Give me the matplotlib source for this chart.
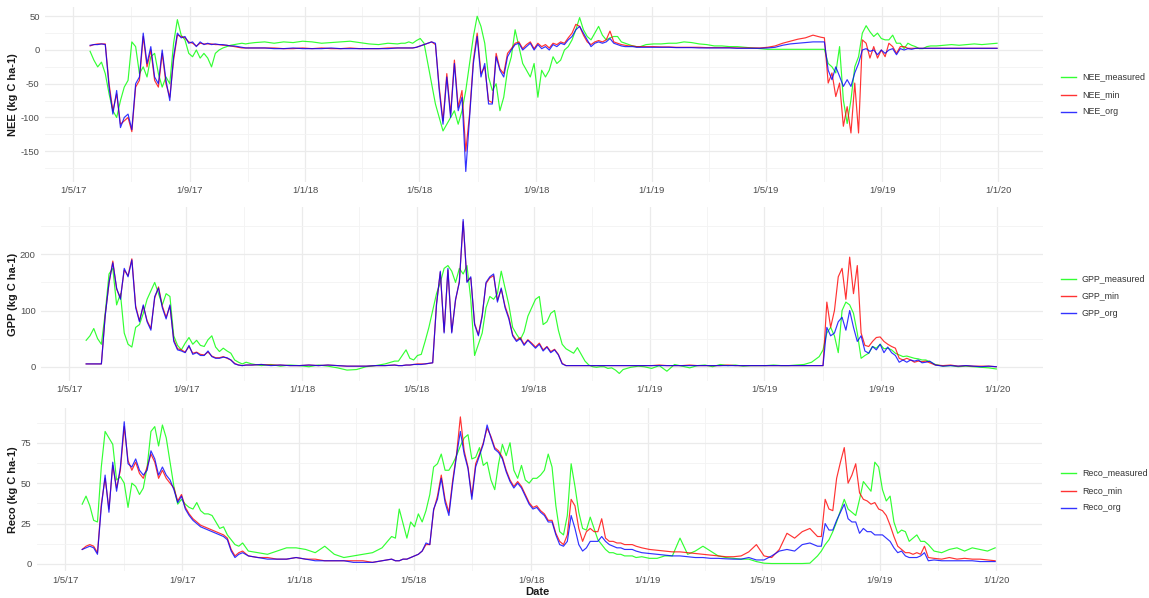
import numpy as np
import pandas as pd
import matplotlib
matplotlib.use("Agg")
import matplotlib.pyplot as plt
import matplotlib.dates as mdates
from matplotlib.lines import Line2D

plt.rcParams['font.family'] = ['Liberation Sans', 'DejaVu Sans']

# ---------------- data ----------------
start_date = "2017-05-01"
# sample days (offset from start_date)
day_offsets = np.concatenate([
    np.arange(18, 187, 4),    # summer 2017
    np.arange(192, 343, 10),  # winter 2017/18
    np.arange(346, 599, 4),   # summer 2018
    np.arange(604, 789, 8),   # winter 2018/19
    np.arange(792, 905, 4),   # summer 2019
    np.arange(910, 975, 8),   # end 2019
])

NEE_measured = [
    -2, -15, -25, -18, -35, -65, -90, -100, -75, -55, -45, 12, 5, -35, -25, -40, -10, -5, -35, -55, -40, -50,
    10, 45, 22, 15, -5, -10, 0, -12, -5, -12, -25, -5, 0, 3, 5, 7, 8, 9, 10, 9, 10,
    11, 12, 10, 12, 11, 13, 12, 10, 11, 12, 13, 11, 9, 8, 10, 9,
    10, 10, 12, 10, 14, 17, 10, -20, -50, -80, -100, -120, -110, -100, -90, -110, -90, -60, -20, 20, 50, 35,
    10, -40, -60, -50, -90, -70, -30, -10, 30, 5, -20, -30, -40, -20, -70, -30, -40, -30, -10, -20, -15, 0,
    5, 15, 30, 48, 30, 20, 15, 25, 35, 22, 15, 18, 20, 20, 12, 10, 8, 6, 5, 5,
    8, 9, 9, 10, 10, 12, 11, 9, 8, 6, 6, 5, 5, 4, 3, 2, 1, 1, 1, 1, 1, 1, 1, 1,
    1, -20, -25, -34, 5, -74, -109, -74, -25, -10, 25, 36, 27, 20, 25, 17, 15, 15, 22, 10, 10, 2, 10, 7, 5,
    2, 2, 5, 6,
    6, 7, 8, 7, 8, 9, 8, 9, 10,
]
NEE_min = [
    6, 8, 9, 9, 9, -50, -90, -65, -110, -105, -100, -121, -55, -45, 20, -25, 0, -45, -55, -5, -50, -70,
    -15, 22, 20, 18, 12, 10, 6, 10, 9, 9, 9, 8, 8, 7, 7, 6, 5, 4, 3, 3, 3,
    3, 3, 3, 2, 2, 3, 2, 3, 2, 2, 3, 2, 2, 2, 3, 3,
    3, 3, 3, 3, 4, 6, 8, 10, 12, 8, -55, -105, -35, -95, -15, -85, -60, -150, -95, -15, 25, -35, -25, -75,
    -78, -5, -28, -35, -5, 2, 10, 12, 2, 8, 12, 2, 10, 5, 8, 3, 10, 8, 12, 10, 18, 25, 38, 35, 22, 12, 8,
    12, 14, 12, 15, 28, 12, 10, 8, 7, 6, 6, 5, 5,
    5, 5, 4.5, 4.5, 4, 4, 4, 4, 3.5, 3.5, 3.5, 3.5, 3, 3, 3, 3, 4, 6, 10, 13, 16, 18, 22, 19,
    18, -49, -34, -69, -49, -113, -84, -123, -49, -123, 15, 10, -12, 5, -12, 0, -10, 10, 5, -5, 5, 5,
    2.5, 2.5, 2.5, 2.5, 2.5, 2.5, 2.5,
    2.5, 2.5, 2.5, 2.5, 2.5, 2.5, 2.5, 2.5, 2.5,
]
NEE_org = [
    7, 8, 8, 9, 8, -55, -95, -60, -115, -100, -95, -118, -50, -40, 25, -20, 5, -40, -50, 0, -45, -75,
    -10, 25, 18, 20, 10, 12, 5, 12, 8, 10, 8, 9, 8, 8, 7, 6, 6, 5, 4, 3, 3,
    3, 3, 2, 2, 3, 2, 2, 2, 3, 2, 2, 2, 2, 2, 2, 3,
    3, 3, 3, 3, 4, 6, 8, 10, 12, 10, -60, -110, -40, -100, -20, -90, -70, -180, -100, -20, 20, -40, -20,
    -80, -80, -10, -30, -40, -10, 0, 8, 10, 0, 5, 10, 0, 8, 2, 5, 0, 8, 5, 10, 8, 15, 20, 30, 35, 25, 15,
    5, 10, 12, 10, 12, 17, 10, 8, 6, 5, 5, 5, 4, 4,
    4, 4, 4, 4, 3.5, 3.5, 3.5, 3, 3, 3, 3, 3, 2.5, 2.5, 2.5, 2.5, 3, 4, 7, 9, 10, 11, 12, 12,
    12, -30, -44, -25, -39, -54, -44, -54, -34, -20, 0, 2, -2, 0, -7, 0, -5, 0, 2, -7, 2, 0, 2, 1,
    2.5, 2.5, 2.5, 2.5, 2.5,
    2.5, 2.5, 2.5, 2.5, 2.5, 2.5, 2.5, 2.5, 2.5,
]

GPP_measured = [
    47, 55, 68, 50, 40, 95, 165, 175, 110, 130, 60, 40, 35, 70, 75, 95, 120, 135, 150, 130, 110, 130,
    125, 55, 38, 30, 42, 52, 40, 47, 38, 36, 48, 55, 35, 27, 33, 28, 24, 12, 8, 5, 8,
    5, 2, 4, 1, 3, 2, 0, 3, 1, -2, -6, -5, 0, 2, 5, 10,
    10, 20, 30, 15, 12, 20, 22, 45, 70, 100, 130, 150, 175, 180, 170, 150, 175, 165, 180, 120, 20, 40,
    60, 105, 125, 120, 130, 170, 140, 110, 70, 58, 48, 62, 90, 105, 120, 125, 75, 80, 95, 100, 65, 40,
    32, 28, 24, 34, 22, 10, 3, 0, -1, 0, 0, -3, -2, -6, -12, -5, -3, -1, 0, 1,
    0, -3, 2, -8, 4, 1, -2, 2, 3, 0, 4, 2, 3, 1, 2, 2, 2, 3, 2, 2, 3, 4, 8, 18,
    30, 60, 70, 55, 25, 100, 115, 110, 95, 60, 15, 20, 24, 36, 33, 40, 32, 33, 30, 24, 21, 18, 19, 17,
    15, 14, 12, 12, 9,
    4, 1, 2, 0, 1, 0, -1, -2, -4,
]
GPP_min = [
    5, 5, 5, 5, 5, 92, 148, 188, 138, 122, 172, 162, 192, 108, 82, 108, 82, 68, 122, 142, 108, 88,
    108, 48, 32, 30, 26, 36, 24, 26, 22, 21, 26, 19, 16, 16, 18, 15, 12, 6, 3, 2, 3,
    3, 4, 3, 3, 2, 2, 3, 2, 3, 2, 1, 1, 1, 2, 2, 3,
    2, 2, 3, 3, 4, 5, 5, 5, 6, 7, 112, 168, 62, 172, 62, 118, 152, 258, 152, 158, 77, 57, 92, 148,
    158, 162, 118, 138, 108, 88, 57, 47, 52, 40, 48, 42, 35, 42, 30, 36, 27, 31, 22, 6,
    2, 2, 2, 2, 2, 2, 2, 2, 2, 2, 2, 2, 2, 2, 2, 2, 2, 2, 2, 2,
    2, 2, 3, 2, 2, 2, 3, 2, 2, 2, 2, 3, 2, 2, 2, 2, 2, 2, 2, 2, 2, 2, 2, 2,
    2, 115, 70, 100, 160, 175, 120, 195, 130, 180, 60, 38, 36, 45, 52, 53, 45, 40, 36, 33, 15, 12, 15,
    12, 8, 10, 9, 10, 7,
    3, 2, 3, 1, 2, 1, 1, 1, 0,
]
GPP_org = [
    5, 5, 5, 5, 5, 90, 150, 185, 140, 120, 175, 160, 190, 105, 80, 110, 80, 65, 125, 140, 105, 85,
    110, 45, 30, 28, 25, 38, 22, 25, 20, 20, 28, 18, 15, 15, 17, 16, 12, 5, 3, 2, 3,
    3, 4, 2, 3, 2, 2, 3, 2, 3, 2, 1, 1, 1, 2, 2, 3,
    2, 2, 3, 3, 4, 4, 4, 5, 6, 7, 110, 170, 60, 175, 60, 120, 150, 262, 150, 160, 75, 55, 90, 150,
    160, 165, 115, 140, 105, 85, 55, 45, 50, 38, 47, 40, 33, 40, 28, 35, 25, 30, 21, 5,
    2, 2, 2, 2, 2, 2, 2, 2, 2, 2, 2, 2, 2, 2, 2, 2, 2, 2, 2, 2,
    2, 2, 2, 2, 2, 2, 2, 2, 2, 2, 2, 2, 2, 2, 2, 2, 2, 2, 2, 2, 2, 2, 2, 2,
    2, 70, 55, 60, 80, 88, 65, 100, 70, 45, 55, 28, 24, 36, 30, 40, 25, 35, 25, 20, 8, 12, 8, 12, 10,
    12, 7, 8, 10,
    3, 1, 2, 1, 2, 1, 0, 1, 0,
]

Reco_measured = [
    37, 42, 36, 27, 26, 60, 82, 78, 74, 52, 54, 50, 35, 50, 48, 43, 47, 60, 82, 85, 73, 86, 78, 63, 48,
    37, 40, 37, 35, 34, 38, 33, 31, 31, 30, 26, 22, 23, 18, 15, 12, 11, 13,
    8, 7, 6, 8, 10, 10, 9, 7, 11, 6, 4, 5, 6, 7, 10, 17,
    16, 34, 25, 16, 26, 23, 31, 26, 33, 43, 60, 62, 68, 58, 58, 62, 67, 73, 78, 80, 65, 66, 72, 61, 63,
    52, 46, 62, 74, 67, 75, 58, 53, 61, 52, 50, 53, 53, 55, 58, 68, 60, 36, 20, 18, 30, 62, 48, 32, 22,
    21, 29, 22, 15, 12, 9, 7, 7, 6, 6, 5, 5, 5, 4,
    4.5, 3.5, 3.5, 5, 5, 16, 6, 8, 11, 8, 5, 4, 3.5, 3, 3, 1.5, 0.5, 0.3, 0.3, 0.3, 0.3, 0.3, 0.5, 5,
    8, 12, 15, 20, 26, 33, 40, 34, 32, 30, 40, 51, 48, 45, 63, 60, 46, 39, 42, 26, 19, 21, 20, 14, 16,
    18, 14, 14, 12,
    8, 7, 9, 10, 8, 10, 9, 8, 10,
]
Reco_min = [
    9, 11, 12, 11, 7, 37, 53, 34, 61, 47, 58, 85, 64, 58, 63, 56, 53, 60, 68, 63, 53, 58, 53, 50, 47,
    39, 43, 35, 31, 28, 26, 24, 23, 22, 21, 20, 19, 18, 16, 9, 5, 7, 8,
    5, 4, 4, 3, 3, 4, 3, 3, 2, 2, 2, 2, 2, 1, 2, 3,
    2, 2, 3, 3, 4, 5, 6, 8, 12, 12, 33, 42, 55, 40, 32, 52, 68, 91, 70, 60, 42, 62, 68, 75, 84,
    79, 72, 70, 66, 58, 52, 48, 51, 48, 43, 38, 35, 36, 33, 31, 27, 27, 19, 14, 12, 18, 40, 36, 22, 14,
    20, 22, 20, 20, 28, 16, 14, 14, 13, 13, 12, 12, 12, 11,
    10, 9, 8.5, 8, 7.5, 7.5, 7, 6.5, 6, 5.5, 5, 4.5, 4.5, 5, 7.5, 12, 5, 4, 9, 19, 16, 20, 22, 17,
    17, 40, 34, 33, 53, 63, 72, 50, 55, 62, 44, 40, 39, 37, 38, 34, 33, 30, 24, 17, 11, 9, 7, 7, 6,
    7, 6, 11, 4,
    3.5, 3, 4, 3, 3.5, 3, 3, 2.5, 2,
]
Reco_org = [
    9, 10, 11, 10, 6, 35, 55, 32, 63, 45, 60, 88, 62, 60, 65, 58, 55, 58, 70, 65, 55, 60, 55, 52, 46,
    38, 42, 34, 30, 27, 25, 23, 22, 21, 20, 19, 18, 17, 15, 8, 4, 6, 7,
    5, 4, 3, 3, 3, 4, 3, 2, 2, 2, 2, 1, 1, 1, 2, 3,
    2, 2, 3, 3, 4, 5, 6, 8, 13, 12, 34, 40, 53, 38, 30, 50, 67, 82, 68, 59, 40, 60, 67, 74, 86,
    78, 71, 69, 65, 57, 51, 47, 50, 47, 42, 37, 34, 35, 32, 30, 26, 26, 18, 12, 11, 14, 30, 22, 12, 8,
    10, 14, 14, 14, 17, 14, 12, 11, 10, 10, 9, 9, 9, 8,
    7, 6.5, 6, 5.5, 5, 5, 4.5, 4, 4, 3.5, 3.5, 3.2, 3, 3, 4, 2.5, 2.5, 5, 8, 9, 8, 12, 13, 11,
    11, 25, 21, 21, 27, 32, 37, 28, 26, 26, 19, 22, 20, 20, 18, 18, 18, 16, 14, 10, 7, 8, 5, 4, 4,
    4, 5, 7, 2,
    2.5, 2, 2, 2, 2, 2, 1.5, 1.5, 1.5,
]

tick_dates = ["2017-05-01", "2017-09-01", "2018-01-01", "2018-05-01", "2018-09-01",
              "2019-01-01", "2019-05-01", "2019-09-01", "2020-01-01"]
tick_labels = ["1/5/17", "1/9/17", "1/1/18", "1/5/18", "1/9/18",
               "1/1/19", "1/5/19", "1/9/19", "1/1/20"]

series_colors = ["#00ff00", "#ff0000", "#0000ff"]

# ---------------- figure ----------------
W, H = 1149, 598
fig = plt.figure(figsize=(W / 100, H / 100), dpi=100)

t0 = pd.Timestamp(start_date)
dates = t0 + pd.to_timedelta(day_offsets, unit="D")
x0 = mdates.date2num(t0 - pd.Timedelta(days=29.85))
x1 = mdates.date2num(t0 + pd.Timedelta(days=1022.85))

major_x = mdates.date2num(pd.to_datetime(tick_dates))
minor_x = (major_x[:-1] + major_x[1:]) / 2

panels = [
    dict(title="NEE (kg C ha-1)", names=["NEE_measured", "NEE_min", "NEE_org"],
         data=[NEE_measured, NEE_min, NEE_org],
         lr=(44.7, 1043.4), tb=(7, 182), ylim=(-195.6, 63.7),
         major=[-150, -100, -50, 0, 50], minor=[-175, -125, -75, -25, 25],
         leg=[77, 95, 112]),
    dict(title="GPP (kg C ha-1)", names=["GPP_measured", "GPP_min", "GPP_org"],
         data=[GPP_measured, GPP_min, GPP_org],
         lr=(40.6, 1042.8), tb=(207, 381), ylim=(-25.4, 284.2),
         major=[0, 100, 200], minor=[50, 150, 250],
         leg=[279, 296, 313]),
    dict(title="Reco (kg C ha-1)", names=["Reco_measured", "Reco_min", "Reco_org"],
         data=[Reco_measured, Reco_min, Reco_org],
         lr=(36.5, 1041.8), tb=(408, 571.4), ylim=(-4.58, 96.5),
         major=[0, 25, 50, 75], minor=[12.5, 37.5, 62.5, 87.5],
         leg=[473, 491, 508]),
]

for p in panels:
    for s, nm in zip(p["data"], p["names"]):
        assert len(s) == len(day_offsets), (nm, len(s), len(day_offsets))
    l, r = p["lr"]
    t, b = p["tb"]
    ax = fig.add_axes([l / W, 1 - b / H, (r - l) / W, (b - t) / H])
    for s, c in zip(p["data"], series_colors):
        ax.plot(dates, s, color=c, lw=0.85, alpha=0.8, solid_joinstyle="round")
    ax.set_xlim(x0, x1)
    ax.set_ylim(*p["ylim"])
    ax.set_xticks(major_x)
    ax.set_xticklabels(tick_labels)
    ax.set_xticks(minor_x, minor=True)
    ax.set_yticks(p["major"])
    ax.set_yticklabels([f"{v:g}" for v in p["major"]])
    ax.set_yticks(p["minor"], minor=True)
    ax.grid(which="major", color="#ebebeb", lw=0.9)
    ax.grid(which="minor", color="#f3f3f3", lw=0.6)
    ax.set_axisbelow(True)
    for sp in ax.spines.values():
        sp.set_visible(False)
    ax.tick_params(which="both", length=0)
    ax.tick_params(axis="y", pad=3.6, labelsize=6.8, labelcolor="#4d4d4d")
    ax.tick_params(axis="x", pad=3.2, labelsize=6.8, labelcolor="#4d4d4d")
    ax.set_facecolor("white")
    # y-axis title
    fig.text(13 / W, 1 - (t + b) / 2 / H, p["title"], rotation=90, ha="center",
             va="center", fontsize=7.9, fontweight="bold", color="#1a1a1a")
    # legend
    for yy, nm, c in zip(p["leg"], p["names"], series_colors):
        fig.add_artist(Line2D([1061 / W, 1076 / W], [1 - yy / H, 1 - yy / H],
                              color=c, lw=1.0, alpha=0.8))
        fig.text(1082 / W, 1 - yy / H, nm, ha="left", va="center",
                 fontsize=6.4, color="#333333")

fig.text(537 / W, 1 - 592 / H, "Date", ha="center", va="center",
         fontsize=8.0, fontweight="bold", color="#1a1a1a")

fig.savefig("out.png", dpi=100, facecolor="white")
